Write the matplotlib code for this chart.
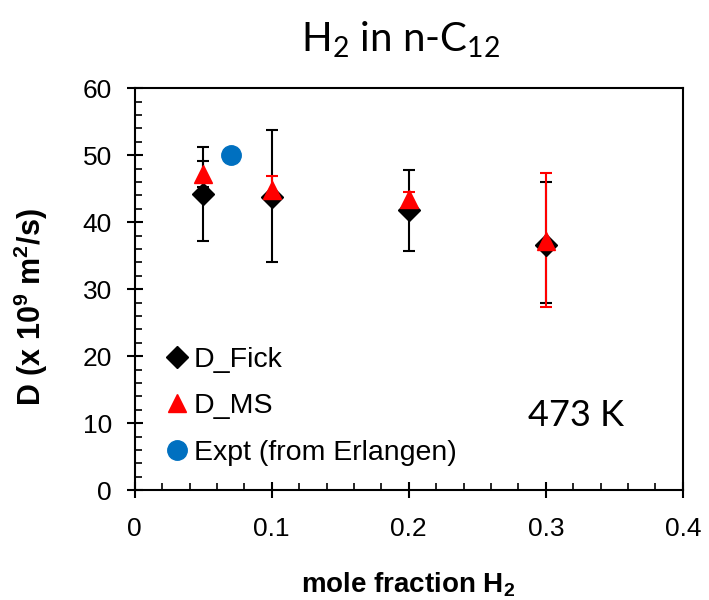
import numpy as np
import matplotlib.pyplot as plt

plt.rcParams['font.family'] = ['Liberation Sans', 'DejaVu Sans']
plt.rcParams['mathtext.fontset'] = 'custom'
plt.rcParams['mathtext.rm'] = 'Lato'
plt.rcParams['mathtext.bf'] = 'Liberation Sans:bold'

x = [0.05, 0.1, 0.2, 0.3]
d_fick = [44.2, 43.7, 41.8, 36.6]
fick_lo = [37.2, 34.0, 35.7, 28.0]
fick_hi = [51.2, 53.8, 47.8, 46.0]
d_ms = [47.2, 44.8, 43.5, 37.2]
ms_lo = [45.3, 43.2, 42.5, 27.3]
ms_hi = [49.1, 46.9, 44.5, 47.3]
ms_err_colors = ['black', 'red', 'red', 'red']
x_expt = [0.07]
d_expt = [50.1]

fig = plt.figure(figsize=(7.09, 6.0), dpi=100)
ax = fig.add_axes([0.190, 0.183, 0.773, 0.670])

# error bars first, markers on top
fick = np.array(d_fick)
ax.errorbar(x, d_fick, yerr=[fick - np.array(fick_lo), np.array(fick_hi) - fick],
            fmt='none', ecolor='black', elinewidth=1.5, capsize=4, capthick=1.5, zorder=2)
ms = np.array(d_ms)
for i in range(len(x)):
    ax.errorbar([x[i]], [d_ms[i]], yerr=[[ms[i] - ms_lo[i]], [ms_hi[i] - ms[i]]],
                fmt='none', ecolor=ms_err_colors[i], elinewidth=1.5, capsize=4, capthick=1.5, zorder=3)

ax.plot(x, d_fick, 'D', color='black', ms=11, ls='none', label='D_Fick', zorder=4)
ax.plot(x, d_ms, '^', color='red', ms=13, ls='none', label='D_MS', zorder=5)
ax.plot(x_expt, d_expt, 'o', color='#0070C0', ms=14, ls='none', label='Expt (from Erlangen)', zorder=6)

ax.set_xlim(0, 0.4)
ax.set_ylim(0, 60)
ax.set_xticks([0, 0.1, 0.2, 0.3, 0.4])
ax.set_xticklabels(['0', '0.1', '0.2', '0.3', '0.4'])
ax.set_yticks(range(0, 61, 10))
ax.set_xticks(np.arange(0, 0.401, 0.02), minor=True)
ax.set_yticks(range(0, 61, 2), minor=True)
ax.tick_params(which='major', direction='inout', length=11, width=1.5, labelsize=19)
ax.tick_params(axis='x', which='major', pad=14)
ax.tick_params(axis='y', which='major', pad=11)
ax.tick_params(which='minor', direction='in', length=5, width=1.2)
for s in ax.spines.values():
    s.set_linewidth(1.5)

ax.set_xlabel(r'mole fraction H$_\mathbf{2}$', fontsize=20, fontweight='bold')
ax.set_ylabel(r'D (x 10$^\mathbf{9}$ m$^\mathbf{2}$/s)', fontsize=22, fontweight='bold')
ax.xaxis.set_label_coords(0.498, -0.2)
ax.yaxis.set_label_coords(-0.155, 0.455)

fig.text(0.565, 0.933, r'H$_\mathrm{2}$ in n-C$_\mathrm{12}$', fontsize=29, family='Lato',
         ha='center', va='center')
ax.text(0.287, 11.2, '473 K', fontsize=26, family='Lato', ha='left', va='center')

ax.legend(loc='lower left', bbox_to_anchor=(0.04, 0.033), frameon=False, fontsize=20.5,
          handlelength=0.6, handletextpad=0.3, labelspacing=0.72, borderaxespad=0.0)

fig.savefig('out.png', dpi=100)
